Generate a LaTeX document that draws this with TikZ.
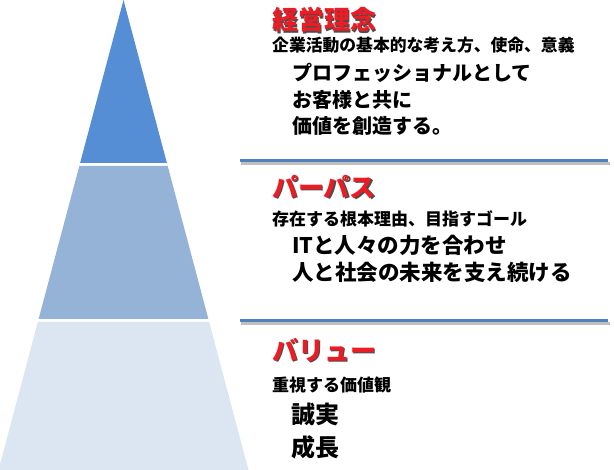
\documentclass[tikz,border=0pt]{standalone}
\usepackage{fontspec}
\newfontfamily\jp{Noto Sans CJK JP}
\definecolor{topblue}{RGB}{85,142,213}
\definecolor{midblue}{RGB}{149,179,215}
\definecolor{lowblue}{RGB}{220,230,242}
\definecolor{rulerblue}{RGB}{79,129,189}
\definecolor{titlered}{RGB}{237,28,36}
\tikzset{
  seg/.style={draw=none},
  titletext/.style={anchor=west,inner sep=0pt,text=titlered,font=\jp\bfseries\fontsize{26}{26}\selectfont},
  titleshadow/.style={anchor=west,inner sep=0pt,text=black!70,font=\jp\bfseries\fontsize{26}{26}\selectfont},
  subtext/.style={anchor=west,inner sep=0pt,font=\jp\bfseries\fontsize{17}{17}\selectfont},
  bodytext/.style={anchor=west,inner sep=0pt,font=\jp\bfseries\fontsize{20}{20}\selectfont},
  ruler/.style={draw=rulerblue,line width=3pt},
  rulershadow/.style={draw=black!25,line width=3pt},
}
\begin{document}
\begin{tikzpicture}[x=1pt,y=-1pt]
\useasboundingbox (0,0) rectangle (614,470);
% pyramid
\fill[seg,topblue] (123.5,0) -- (166.9,163) -- (80.1,163) -- cycle;
\fill[seg,midblue] (79.3,166) -- (167.7,166) -- (208.4,319) -- (38.6,319) -- cycle;
\fill[seg,lowblue] (37.8,322) -- (209.2,322) -- (248.5,470) -- (-1.5,470) -- cycle;
% rulers
\coordinate (r1a) at (240,161); \coordinate (r1b) at (608,161);
\coordinate (r1sa) at (241,164); \coordinate (r1sb) at (610,164);
\coordinate (r2a) at (240,321); \coordinate (r2b) at (608,321);
\coordinate (r2sa) at (241,324); \coordinate (r2sb) at (610,324);
\draw[rulershadow] (r1sa) -- (r1sb);
\draw[ruler] (r1a) -- (r1b);
\draw[rulershadow] (r2sa) -- (r2sb);
\draw[ruler] (r2a) -- (r2b);
% section 1
\node[titleshadow] (t1s) at (273.5,21.5) {経営理念};
\node[titletext] (t1) at (272,20) {経営理念};
\node[subtext,font=\jp\bfseries\fontsize{16.8}{17}\selectfont] (s1) at (272,45) {企業活動の基本的な考え方、使命、意義};
\node[bodytext] (b1a) at (292,73) {プロフェッショナルとして};
\node[bodytext] (b1b) at (292,100) {お客様と共に};
\node[bodytext] (b1c) at (292,126) {価値を創造する。};
% section 2
\node[titleshadow] (t2s) at (273.5,188.5) {パーパス};
\node[titletext] (t2) at (272,187) {パーパス};
\node[subtext] (s2) at (272,219) {存在する根本理由、目指すゴール};
\node[bodytext,font=\jp\bfseries\fontsize{21.5}{21.5}\selectfont] (b2a) at (292,245) {ITと人々の力を合わせ};
\node[bodytext,font=\jp\bfseries\fontsize{21.5}{21.5}\selectfont] (b2b) at (292,272) {人と社会の未来を支え続ける};
% section 3
\node[titleshadow] (t3s) at (273.5,351.5) {バリュー};
\node[titletext] (t3) at (272,350) {バリュー};
\node[subtext] (s3) at (272,385) {重視する価値観};
\node[bodytext,font=\jp\bfseries\fontsize{24}{24}\selectfont] (b3a) at (291,414) {誠実};
\node[bodytext,font=\jp\bfseries\fontsize{24}{24}\selectfont] (b3b) at (291,447) {成長};
\end{tikzpicture}
\end{document}
